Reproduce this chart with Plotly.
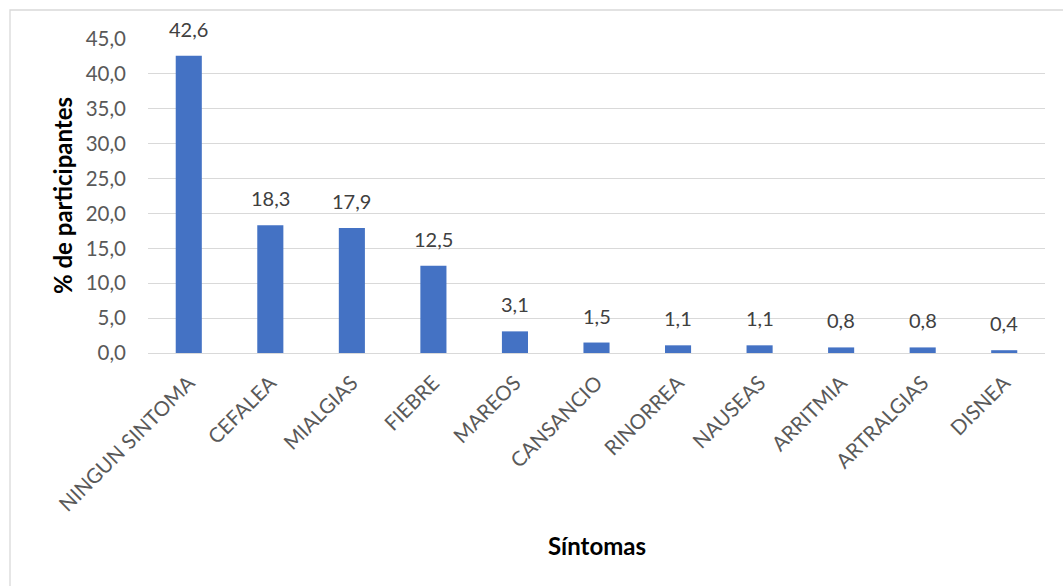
import plotly.graph_objects as go

sintomas = ["NINGUN SINTOMA", "CEFALEA", "MIALGIAS", "FIEBRE", "MAREOS", "CANSANCIO",
            "RINORREA", "NAUSEAS", "ARRITMIA", "ARTRALGIAS", "DISNEA"]
porcentaje = [42.6, 18.3, 17.9, 12.5, 3.1, 1.5, 1.1, 1.1, 0.8, 0.8, 0.4]
y_ticks = [0, 5, 10, 15, 20, 25, 30, 35, 40, 45]

W, H = 1063, 586
L, R, T, B = 148, 18, 39, 233
pw, ph = W - L - R, H - T - B

def px_x(p):
    return (p - L) / pw

def px_y(p):
    return (H - B - p) / ph

font_main = "Lato, 'Open Sans', sans-serif"

fig = go.Figure(go.Bar(
    x=sintomas,
    y=porcentaje,
    marker=dict(color="#4472C4", line=dict(width=0)),
    width=0.32,
))

# value labels above each bar
value_labels = [
    dict(x=cat, y=val, xref="x", yref="y",
         text=f"{val:.1f}".replace(".", ","),
         showarrow=False, yanchor="middle", yshift=27,
         font=dict(family=font_main, size=20, color="#404040"))
    for cat, val in zip(sintomas, porcentaje)
]

fig.update_layout(
    width=W, height=H,
    margin=dict(l=L, r=R, t=T, b=B),
    paper_bgcolor="white",
    plot_bgcolor="white",
    separators=", ",
    showlegend=False,
    font=dict(family=font_main),
    xaxis=dict(
        tickangle=-45,
        tickfont=dict(family=font_main, size=20.5, color="#595959"),
        showgrid=False,
        showline=False,
        ticks="",
        ticklabelstandoff=13,
    ),
    yaxis=dict(
        range=[0, 45],
        tickvals=y_ticks,
        tickformat=".1f",
        tickfont=dict(family=font_main, size=20.5, color="#595959"),
        showgrid=True,
        gridcolor="#d9d9d9",
        gridwidth=1,
        zeroline=True,
        zerolinecolor="#d9d9d9",
        zerolinewidth=1,
        showline=False,
        ticks="",
        ticklabelstandoff=21,
    ),
    shapes=[dict(
        type="rect", xref="paper", yref="paper",
        x0=px_x(10), x1=px_x(1100), y0=px_y(700), y1=px_y(10),
        line=dict(color="#d9d9d9", width=1.3),
        fillcolor="rgba(0,0,0,0)", layer="below",
    )],
    annotations=value_labels + [
        dict(text="<b>Síntomas</b>", xref="paper", yref="paper",
             x=0.5, y=px_y(545), xanchor="center", yanchor="middle",
             showarrow=False, font=dict(family=font_main, size=24, color="#000000")),
        dict(text="<b>% de participantes</b>", xref="paper", yref="paper",
             x=px_x(62), y=px_y(196), xanchor="center", yanchor="middle",
             textangle=-90, showarrow=False,
             font=dict(family=font_main, size=24, color="#000000")),
    ],
)

fig.write_html("out.html")
